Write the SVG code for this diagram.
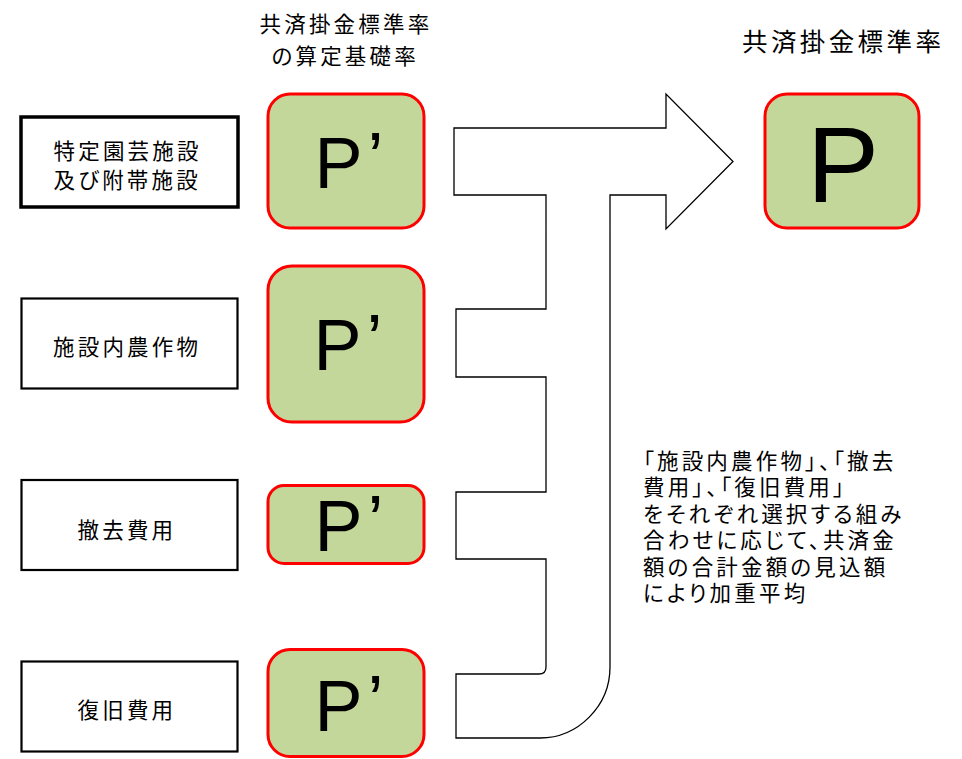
<svg xmlns="http://www.w3.org/2000/svg" width="962" height="759" viewBox="0 0 962 759">
<style>
.jp{font-family:"Noto Sans CJK JP","Noto Sans CJK SC",sans-serif;font-size:21.5px;letter-spacing:3.2px;font-feature-settings:"palt";fill:#000}
.ttl{font-family:"Noto Sans CJK JP","Noto Sans CJK SC",sans-serif;font-size:25.5px;letter-spacing:3.4px;font-feature-settings:"palt";fill:#000}
.box{fill:#fff;stroke:#000;stroke-width:2.2}
.pb{fill:#C4D79B;stroke:#FF0000;stroke-width:3}
.p{font-family:"Liberation Sans",Arial,sans-serif;font-size:72px;fill:#000}
.arrow{fill:#fff;stroke:#000;stroke-width:1.3;stroke-linejoin:miter}
</style>

<g id="title-left">
<text class="jp" x="259.5" y="31.5">共済掛金標準率</text>
<text class="jp" x="271.5" y="64">の算定基礎率</text>
</g>
<g id="title-right">
<text class="ttl" x="742" y="50.5">共済掛金標準率</text>
</g>

<g id="connectors">
<path class="arrow" d="M454,128 H666 V94 L733,161.5 L666,229 V195 H610 V667 C610,706 578,738 540,738 H456 V674 H539 Q546,674 546,667 V559 H456 V492 H546 V377 H456 V309 H546 V195 H454 Z"/>
</g>

<g id="node-tokutei">
<rect class="box" x="21" y="117" width="217" height="90" style="stroke-width:3.5"/>
<text class="jp" x="53.5" y="158.5">特定園芸施設<tspan x="53.5" y="187.5">及び附帯施設</tspan></text>
</g>
<g id="node-sakumotsu">
<rect class="box" x="21.5" y="298.5" width="216" height="90"/>
<text class="jp" x="53" y="355">施設内農作物</text>
</g>
<g id="node-tekkyo">
<rect class="box" x="21.5" y="480" width="216" height="90"/>
<text class="jp" x="77.5" y="538">撤去費用</text>
</g>
<g id="node-fukkyu">
<rect class="box" x="21.5" y="661.5" width="216" height="90"/>
<text class="jp" x="77.5" y="718">復旧費用</text>
</g>

<g id="node-p1">
<rect class="pb" x="268" y="94" width="156" height="134" rx="22"/>
<text class="p" x="314.5" y="188">P<tspan dx="5" dy="-5.5">’</tspan></text>
</g>
<g id="node-p2">
<rect class="pb" x="268" y="266" width="156" height="156" rx="24"/>
<text class="p" x="313.5" y="370">P<tspan dx="5" dy="-5.5">’</tspan></text>
</g>
<g id="node-p3">
<rect class="pb" x="268" y="485.5" width="156" height="78" rx="16"/>
<text class="p" x="314.5" y="551">P<tspan dx="5" dy="-5.5">’</tspan></text>
</g>
<g id="node-p4">
<rect class="pb" x="268" y="649.5" width="156" height="107" rx="22"/>
<text class="p" x="314.5" y="731">P<tspan dx="5" dy="-5.5">’</tspan></text>
</g>

<g id="node-p">
<rect class="pb" x="765" y="94" width="154" height="134" rx="22"/>
<text class="p" x="843" y="201.5" text-anchor="middle" style="font-size:108px">P</text>
</g>

<g id="note">
<text class="jp" x="643" y="468.5">「施設内農作物」、「撤去<tspan x="643" y="495">費用」、「復旧費用」</tspan><tspan x="643" y="521.5">をそれぞれ選択する組み</tspan><tspan x="643" y="548">合わせに応じて、共済金</tspan><tspan x="643" y="574.5">額の合計金額の見込額</tspan><tspan x="643" y="601">により加重平均</tspan></text>
</g>
</svg>
